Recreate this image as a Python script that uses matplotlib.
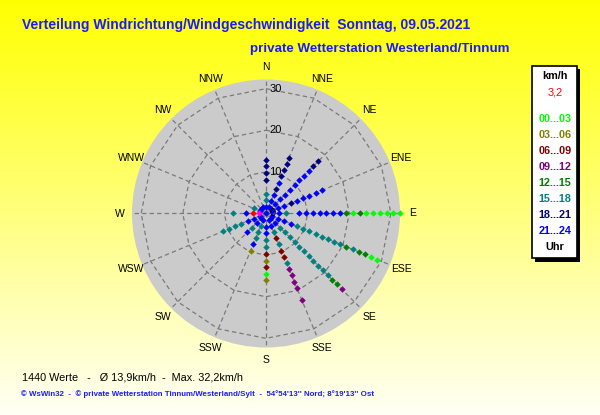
import numpy as np
import matplotlib
matplotlib.use("Agg")
import matplotlib.pyplot as plt
from matplotlib.patches import Rectangle

# ---------------- data ----------------
dir_names = ["N", "NNE", "NE", "ENE", "E", "ESE", "SE", "SSE",
             "S", "SSW", "SW", "WSW", "W", "WNW", "NW", "NNW"]
dir_deg = [0, 22.5, 45, 67.5, 90, 112.5, 135, 157.5,
           180, 202.5, 225, 247.5, 270, 292.5, 315, 337.5]

# speed (km/h) of each plotted value and start hour of its 3-hour class
speed_N = [1.6, 3.2, 4.8, 8.0, 9.7, 11.3, 12.9]
hour_N = [21, 15, 15, 18, 18, 18, 18]
speed_NNE = [1.6, 3.2, 4.8, 6.4, 8.0, 9.7, 11.3, 12.9, 14.5]
hour_NNE = [21, 21, 21, 18, 21, 18, 18, 18, 18]
speed_NE = [1.6, 3.2, 4.8, 6.4, 8.0, 9.7, 11.3, 12.9, 14.5, 16.1, 17.7]
hour_NE = [21, 21, 21, 21, 21, 21, 21, 21, 21, 18, 18]
speed_ENE = [1.6, 3.2, 4.8, 6.4, 8.0, 9.7, 11.3, 12.9, 14.5]
hour_ENE = [21, 21, 21, 18, 21, 21, 21, 21, 21]
speed_E = [3.2, 4.8, 8.0, 9.7, 11.3, 12.9, 14.5, 16.1, 17.7, 19.3,
           20.9, 22.5, 24.1, 25.7, 27.4, 29.0, 30.6, 32.2]
hour_E = [21, 15, 21, 21, 21, 21, 21, 21, 21, 12, 0, 12, 0, 0, 0, 0, 0, 0]
speed_ESE = [1.6, 3.2, 4.8, 6.4, 8.0, 9.7, 11.3, 12.9, 14.5, 16.1,
             17.7, 19.3, 20.9, 22.5, 24.1, 25.7, 27.4, 29.0]
hour_ESE = [21, 21, 21, 21, 15, 15, 15, 15, 15, 15, 15, 15, 12, 15, 12, 12, 0, 0]
speed_SE = [1.6, 3.2, 4.8, 6.4, 8.0, 9.7, 11.3, 12.9, 14.5, 16.1,
            17.7, 19.3, 20.9, 22.5, 24.1, 25.7]
hour_SE = [21, 21, 15, 15, 15, 15, 15, 15, 15, 15, 15, 15, 15, 12, 12, 9]
speed_SSE = [1.6, 3.2, 4.8, 6.4, 8.0, 9.7, 11.3, 12.9, 14.5, 16.1, 17.7, 19.3, 22.5]
hour_SSE = [21, 21, 15, 6, 15, 6, 6, 15, 9, 9, 9, 9, 9]
speed_S = [3.2, 4.8, 6.4, 8.0, 9.7, 11.3, 12.9, 14.5, 16.1]
hour_S = [21, 21, 15, 15, 6, 3, 6, 0, 3]
speed_SSW = [1.6, 3.2, 4.8, 6.4, 8.0, 9.7]
hour_SSW = [21, 15, 15, 15, 21, 3]
speed_SW = [1.6, 3.2, 4.8, 6.4]
hour_SW = [21, 21, 15, 21]
speed_WSW = [1.6, 3.2, 4.8, 6.4, 8.0, 9.7, 11.3]
hour_WSW = [21, 21, 21, 15, 15, 15, 15]
speed_W = [0.0, 4.8, 8.0]
hour_W = [21, 21, 15]
speed_WNW = [1.6, 3.2]
hour_WNW = [21, 15]
speed_NW = [1.6]
hour_NW = [21]
speed_NNW = [1.6]
hour_NNW = [21]

speeds = [speed_N, speed_NNE, speed_NE, speed_ENE, speed_E, speed_ESE, speed_SE, speed_SSE,
          speed_S, speed_SSW, speed_SW, speed_WSW, speed_W, speed_WNW, speed_NW, speed_NNW]
hours = [hour_N, hour_NNE, hour_NE, hour_ENE, hour_E, hour_ESE, hour_SE, hour_SSE,
         hour_S, hour_SSW, hour_SW, hour_WSW, hour_W, hour_WNW, hour_NW, hour_NNW]

prev_dir, prev_speed = "W", 1.6       # magenta marked value
current_dir, current_speed = "W", 3.2  # current value (red)

class_labels = ["00...03", "03...06", "06...09", "09...12",
                "12...15", "15...18", "18...21", "21...24"]
class_colors = ["#00ff00", "#808000", "#800000", "#800080",
                "#008000", "#008080", "#000080", "#0000ff"]

ring_values = [10, 20, 30]
r_max = 32.2

title1 = "Verteilung Windrichtung/Windgeschwindigkeit  Sonntag, 09.05.2021"
title2 = "private Wetterstation Westerland/Tinnum"
stats = "1440 Werte   -   \u00d8 13,9km/h  -  Max. 32,2km/h"
footer = ("\u00a9 WsWin32  -  \u00a9 private Wetterstation Tinnum/Westerland/Sylt  -  "
          "54\u00b054'13'' Nord; 8\u00b019'13'' Ost")

# ---------------- figure ----------------
W, H = 600, 415
fig = plt.figure(figsize=(W / 100, H / 100), dpi=100)
FONT = "Liberation Sans"

# background gradient
bg = fig.add_axes([0, 0, 1, 1])
grad = np.linspace(0, 1, 256)[:, None]
img = np.zeros((256, 1, 3))
img[..., 0] = 1.0
img[..., 1] = 1.0
img[..., 2] = (grad * 245 / 255.0)
bg.imshow(img, aspect="auto", extent=[0, 1, 0, 1], origin="upper")
bg.set_axis_off()

def fx(px):
    return px / W

def fy(py):
    return 1 - py / H

# polar axes
cx, cy, R = 266, 213.5, 134
ax = fig.add_axes([fx(cx - R), fy(cy + R), 2 * R / W, 2 * R / H], projection="polar")
ax.set_theta_zero_location("N")
ax.set_theta_direction(-1)
ax.set_ylim(0, r_max)
ax.grid(False)
ax.set_xticks([])
ax.set_yticks([])
ax.spines["polar"].set_visible(False)
ax.set_facecolor("#cbcbcb")

angles = np.deg2rad(dir_deg + [360])
grid_kw = dict(color="#7a7a7a", lw=0.9, dashes=(3.5, 2.5), zorder=1)
for rv in ring_values:
    ax.plot(angles, [rv] * len(angles), **grid_kw)
for a in angles[:-1]:
    ax.plot([a, a], [0, r_max], **grid_kw)

# points
MS = 3.3
for name, deg, sp, hr in zip(dir_names, dir_deg, speeds, hours):
    th = np.deg2rad(deg)
    for s, h in zip(sp, hr):
        ax.plot([th], [s], ls="none", marker="D", ms=MS, mew=0,
                color=class_colors[h // 3], zorder=3, clip_on=False)
ax.plot([np.deg2rad(dir_deg[dir_names.index(prev_dir)])], [prev_speed], ls="none",
        marker="D", ms=MS, mew=0, color="#ff00ff", zorder=4)
ax.plot([np.deg2rad(dir_deg[dir_names.index(current_dir)])], [current_speed], ls="none",
        marker="D", ms=MS, mew=0, color="#ff0000", zorder=4)

# radial labels
for rv in [0] + ring_values:
    ax.annotate(str(rv), xy=(0, rv), xytext=(2.4, 0), textcoords="offset points",
                ha="left", va="center", fontsize=8, family=FONT, color="black", zorder=5)

# compass labels
for name, deg in zip(dir_names, dir_deg):
    ax.text(np.deg2rad(deg), 35.1, name, ha="center", va="center", fontsize=7.5,
            family=FONT, color="black", clip_on=False)

# titles
fig.text(fx(22), fy(25), title1, ha="left", va="center", fontsize=10, fontweight="bold",
         family=FONT, color="#1a1aff")
fig.text(fx(250), fy(49), title2, ha="left", va="center", fontsize=9.6, fontweight="bold",
         family=FONT, color="#1a1aff")

# legend box
fig.patches.append(Rectangle((fx(534.5), fy(261.5)), (577.3 - 531.7) / W, (258.3 - 66) / H,
                             transform=fig.transFigure, facecolor="black", edgecolor="none"))
fig.patches.append(Rectangle((fx(531.7), fy(258.3)), (577.3 - 531.7) / W, (258.3 - 66) / H,
                             transform=fig.transFigure, facecolor="white", edgecolor="black",
                             lw=1.2))
lx = 555
fig.text(fx(lx), fy(76), "km/h", ha="center", va="center", fontsize=7.8, fontweight="bold",
         family=FONT, color="black")
fig.text(fx(lx), fy(92.3), "3,2", ha="center", va="center", fontsize=7.8,
         family=FONT, color="#ff0000")
leg_y = [119.3, 135.5, 151, 167, 183.3, 199.3, 215, 230.7]
for lab, col, yy in zip(class_labels, class_colors, leg_y):
    fig.text(fx(lx), fy(yy), lab, ha="center", va="center", fontsize=7.8, fontweight="bold",
             family=FONT, color=col)
fig.text(fx(lx), fy(247.3), "Uhr", ha="center", va="center", fontsize=7.8, fontweight="bold",
         family=FONT, color="black")

# bottom texts
fig.text(fx(21.5), fy(377), stats, ha="left", va="center", fontsize=7.8,
         family=FONT, color="black")
fig.text(fx(21), fy(394.5), footer, ha="left", va="center", fontsize=5.7, fontweight="bold",
         family=FONT, color="#1a1aff")

fig.savefig("out.png", dpi=100)
